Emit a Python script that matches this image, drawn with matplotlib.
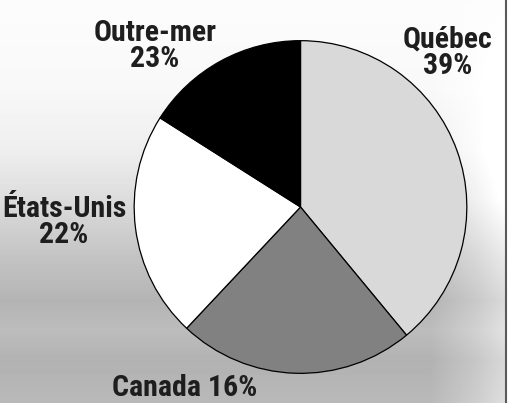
import numpy as np
import matplotlib.pyplot as plt
from matplotlib import font_manager

# slice sizes as drawn (clockwise from 12 o'clock)
slice_values = [39, 23, 22, 16]
slice_colors = ["#d9d9d9", "#818181", "#ffffff", "#000000"]

# label texts as printed on the chart
label_texts = ["Québec\n39%", "Canada 16%", "États-Unis\n22%", "Outre-mer\n23%"]
label_pos = [(448, 53), (185, 388), (64, 222), (155, 46)]  # pixel centres

# pick a narrow bold face if one is installed
names = {f.name for f in font_manager.fontManager.ttflist}
font, size = "DejaVu Sans", 15
for cand, sz in [("Liberation Sans Narrow", 21.5), ("Roboto Condensed", 21.5),
                 ("DejaVu Sans Condensed", 18), ("Open Sans Condensed", 20),
                 ("Roboto", 17)]:
    if cand in names:
        font, size = cand, sz
        break

W, H = 515, 403
fig = plt.figure(figsize=(W / 100, H / 100), dpi=100)

# background: light at top, grey toward bottom, lighter near right edge
bg = fig.add_axes([0, 0, 1, 1])
yy = np.arange(H)
xx = np.arange(W)
prof = np.interp(yy, [0, 90, 150, 200, 250, 300, 330, 360, 403],
                 [252, 248, 238, 220, 198, 180, 188, 178, 185])
right = np.interp(xx, [0, 430, 475, 505], [0, 0, 20, 38])
wy = np.interp(yy, [0, 100, 200, 403], [0, 0.3, 1, 1])
img = np.clip(prof[:, None] + right[None, :] * wy[:, None], 0, 255)
bg.imshow(img, cmap="gray", vmin=0, vmax=255, aspect="auto",
          extent=[0, W, H, 0], interpolation="bilinear")
bg.axvspan(506, W, color="white")
bg.axvline(506, color="#5a5a5a", lw=1.5)
bg.set_xlim(0, W)
bg.set_ylim(H, 0)
bg.axis("off")

# pie
cx, cy, r = 300.5, 207, 168
ax = fig.add_axes([(cx - r) / W, (H - cy - r) / H, 2 * r / W, 2 * r / H])
ax.pie(slice_values, colors=slice_colors, startangle=90, counterclock=False,
       wedgeprops=dict(edgecolor="black", linewidth=0.9))
ax.set_xlim(-1.01, 1.01)
ax.set_ylim(-1.01, 1.01)
ax.axis("off")

for txt, (px, py) in zip(label_texts, label_pos):
    fig.text(px / W, 1 - py / H, txt, ha="center", va="center",
             multialignment="center", fontsize=size, fontweight="heavy",
             family=[font, "DejaVu Sans"], color="#1e1e1e", linespacing=0.92)

fig.savefig("out.png", dpi=100)
